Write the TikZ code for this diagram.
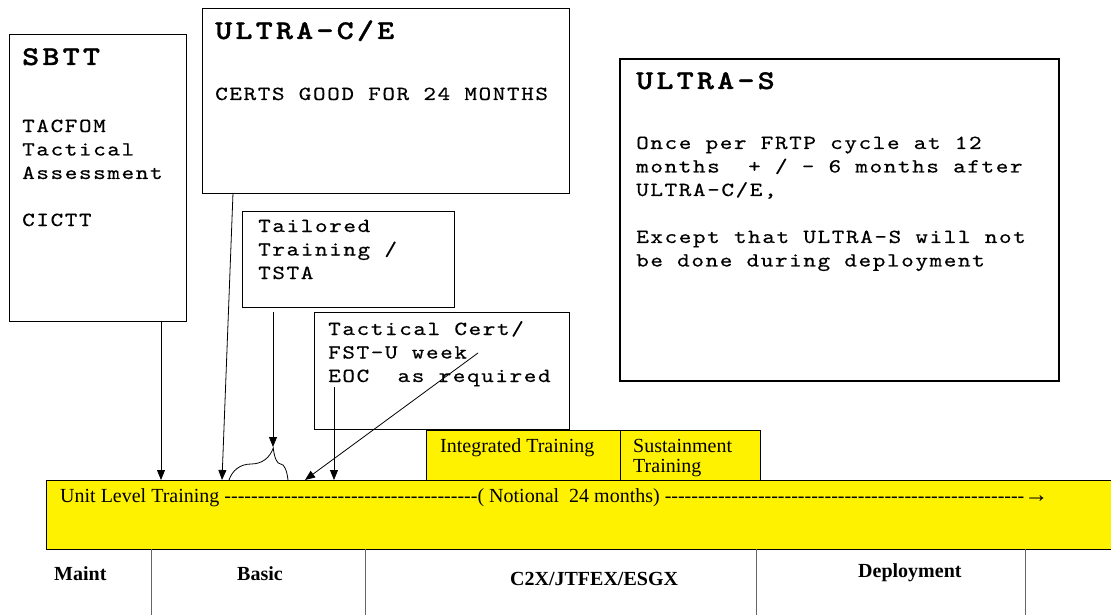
\documentclass[tikz,border=0pt]{standalone}
\usepackage{fontspec}
\setmainfont{Liberation Serif}
\newfontfamily\monofam[FakeStretch=1.2, FakeBold=0.4, LetterSpace=8]{lmmono10-regular.otf}
\newfontfamily\monohead[FakeStretch=1.2, FakeBold=1.2, LetterSpace=12]{lmmonolt10-bold.otf}
\usetikzlibrary{arrows.meta,decorations.pathreplacing}

\newcommand\dashrun[1]{\foreach \k in {1,...,#1}{-\kern0pt}}
\newcommand\linestack[1]{\begin{tabular}[t]{@{}l@{}}#1\end{tabular}}

\tikzset{
  plainbox/.style={draw, line width=0.9pt, anchor=north west, inner sep=0pt, outer sep=0pt},
  yellowbox/.style={plainbox, fill=yellow},
  monotext/.style={anchor=base west, inner sep=0pt,
    font=\monofam\fontsize{20}{23.5}\selectfont},
  headtext/.style={anchor=base west, inner sep=0pt,
    font=\monohead\fontsize{27}{30}\selectfont},
  seriftext/.style={anchor=base west, inner sep=0pt,
    font=\fontsize{20}{20}\selectfont},
  phasetext/.style={anchor=base west, inner sep=0pt,
    font=\bfseries\fontsize{20}{22}\selectfont},
  feed/.style={-{Triangle[length=10pt,width=8pt]}, line width=0.8pt},
  divider/.style={draw=black!60, line width=1pt},
}

\begin{document}
\begin{tikzpicture}[x=1pt,y=-1pt]

    \useasboundingbox (0,0) rectangle (1111,615);

    % the long yellow bar and its phases
    \node[fill=yellow, anchor=north west, inner sep=0pt, minimum width=1065, minimum height=69] (bar) at (46,480) {};
    \draw[line width=0.9pt] (bar.north east) -- (bar.north west) -- (bar.south west) -- (bar.south east);
    \node[seriftext] (ulttext) at (60,502) {Unit Level Training \dashrun{38}( Notional~~24 months) \dashrun{54}{\fontsize{24}{24}\selectfont→}};

    \node[yellowbox, minimum width=194, minimum height=50] (integ) at (426,430) {};
    \node[yellowbox, minimum width=140, minimum height=50] (sustain) at (620,430) {};
    \node[seriftext] (integtext) at (440,452) {Integrated Training};
    \node[seriftext] (sustaintext) at (633,452) {\linestack{Sustainment\\Training}};

    \coordinate (cutA) at (151,549);
    \coordinate (cutB) at (365,549);
    \coordinate (cutC) at (756,549);
    \coordinate (cutD) at (1025,549);
    \draw[divider] (cutA) -- (151,615);
    \draw[divider] (cutB) -- (365,615);
    \draw[divider] (cutC) -- (756,615);
    \draw[divider] (cutD) -- (1025,615);

    \node[phasetext] (maint) at (54,580) {Maint};
    \node[phasetext] (basic) at (237,580) {Basic};
    \node[phasetext] (c2x) at (510,585) {C2X/JTFEX/ESGX};
    \node[phasetext] (deploy) at (858,577) {Deployment};

    % the boxes above
    \node[plainbox, minimum width=177, minimum height=287] (sbtt) at (9,34) {};
    \node[headtext] (sbtthead) at (22,65) {SBTT};
    \node[monotext] (sbttbody) at (22,132) {\linestack{TACFOM\\Tactical\\Assessment\\[23.5pt]CICTT}};

    \node[plainbox, minimum width=367, minimum height=185] (ultrace) at (202,8) {};
    \node[headtext] (ultracehead) at (215,39) {ULTRA-C/E};
    \node[monotext] (ultracebody) at (215,100) {CERTS GOOD FOR 24 MONTHS};

    \node[plainbox, minimum width=212, minimum height=96] (tailored) at (242,211) {};
    \node[monotext] (tailoredtext) at (258,232) {\linestack{Tailored\\Training /\\TSTA}};

    \node[plainbox, minimum width=255, minimum height=117] (tactical) at (314,312) {};
    \node[monotext] (tacticaltext) at (328,335) {\linestack{Tactical Cert/\\FST-U week\\EOC~~as required}};

    \node[plainbox, line width=1.1pt, minimum width=439, minimum height=322] (ultras) at (620,59) {};
    \node[headtext] (ultrashead) at (636,89) {ULTRA-S};
    \node[monotext] (ultrasbody) at (636,149) {\linestack{Once per FRTP cycle at 12\\months~~+ / - 6 months after\\ULTRA-C/E,\\[23.5pt]Except that ULTRA-S will not\\be done during deployment}};

    % brace under the tailored training arrow
    \draw[line width=0.8pt, decorate, decoration={brace, amplitude=32pt, aspect=0.75}] (229,480) -- (288,480);
    \coordinate (bracetip) at (273,447);

    % arrows onto the bar
    \coordinate (weekmark) at (478,353);
    \coordinate (eocmark) at (334,387);
    \coordinate (hitA) at (161,480);
    \coordinate (hitB) at (222,480);
    \coordinate (hitC) at (305,480);
    \coordinate (hitD) at (334,480);
    \draw[feed] (sbtt.south -| hitA) -- (hitA);
    \draw[feed] (ultrace.south -| 233,0) -- (hitB);
    \draw[feed] (273,312) -- (bracetip);
    \draw[feed] (weekmark) -- (hitC);
    \draw[feed] (eocmark) -- (hitD);

\end{tikzpicture}
\end{document}
